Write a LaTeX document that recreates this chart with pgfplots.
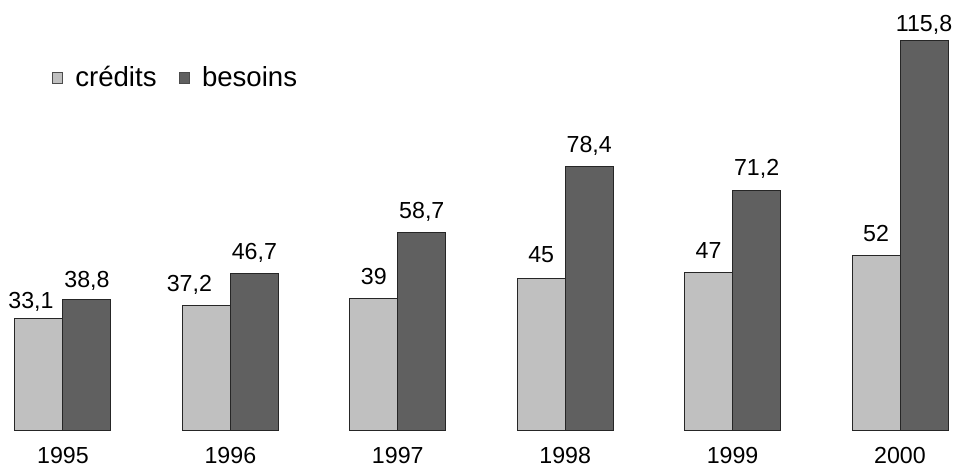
\documentclass[border=0pt]{standalone}
\usepackage{fontspec}
\setmainfont{Liberation Sans}
\usepackage{pgfplots}
\usepackage{pgfplotstable}
\pgfplotsset{compat=1.18}

\definecolor{credit}{HTML}{C0C0C0}
\definecolor{besoin}{HTML}{606060}

% year, credits, needs, and per-label offsets (pt) for the value labels
\pgfplotstableread{
x year cred besoins cdx cdy bdy
0 1995 33.1 38.8  -4   5   6
1 1996 37.2 46.7  -8.5 7   7
2 1997 39   58.7   0   7   7
3 1998 45   78.4   0   8   7
4 1999 47   71.2   0   7   7.5
5 2000 52   115.8  0   7   4.5
}\data

\newcommand\lblfont{\fontsize{11.6}{13}\selectfont}

\begin{document}
\begin{tikzpicture}
\begin{axis}[
  scale only axis,
  width=477pt, height=233.5pt,
  xmin=-0.3763, xmax=5.3226,
  ymin=-11.01, ymax=127.98,
  hide axis,
  clip=false,
  ybar=0pt, bar width=24pt,
  /pgf/number format/assume math mode=true,
  legend columns=2,
  legend cell align=left,
  legend style={at={(rel axis cs:0.054,0.833)}, anchor=west,
    draw=none, fill=none, inner sep=0pt,
    font=\fontsize{13.8}{16}\selectfont,
    /tikz/every odd column/.append style={column sep=4pt},
    /tikz/every even column/.append style={column sep=9pt}},
]
\addplot[fill=credit, draw=black!85, line width=0.5pt,
  legend image code/.code={\draw[fill=credit, draw=black!70, line width=0.5pt] (0pt,-2.6pt) rectangle (5.2pt,2.6pt);},
  visualization depends on={\thisrow{cdx} \as \dx},
  visualization depends on={\thisrow{cdy} \as \dy},
  nodes near coords={\pgfmathprintnumber[use comma]{\pgfplotspointmeta}},
  nodes near coords style={anchor=base, inner sep=0pt, font=\lblfont,
    xshift=\dx pt, yshift=\dy pt}]
  table[x=x, y=cred] {\data};
\addlegendentry{crédits}
\addplot[fill=besoin, draw=black!85, line width=0.5pt,
  legend image code/.code={\draw[fill=besoin, draw=black!70, line width=0.5pt] (0pt,-2.6pt) rectangle (5.2pt,2.6pt);},
  visualization depends on={\thisrow{bdy} \as \dy},
  nodes near coords={\pgfmathprintnumber[use comma]{\pgfplotspointmeta}},
  nodes near coords style={anchor=base, inner sep=0pt, font=\lblfont,
    yshift=\dy pt}]
  table[x=x, y=besoins] {\data};
\addlegendentry{besoins}

% year labels under each group
\node[anchor=base, font=\lblfont] at (axis cs:0,-10.1) {1995};
\node[anchor=base, font=\lblfont] at (axis cs:1,-10.1) {1996};
\node[anchor=base, font=\lblfont] at (axis cs:2,-10.1) {1997};
\node[anchor=base, font=\lblfont] at (axis cs:3,-10.1) {1998};
\node[anchor=base, font=\lblfont] at (axis cs:4,-10.1) {1999};
\node[anchor=base, font=\lblfont] at (axis cs:5,-10.1) {2000};
\end{axis}
\pgfresetboundingbox
\path (current axis.south west) rectangle (current axis.north east);
\end{tikzpicture}
\end{document}
